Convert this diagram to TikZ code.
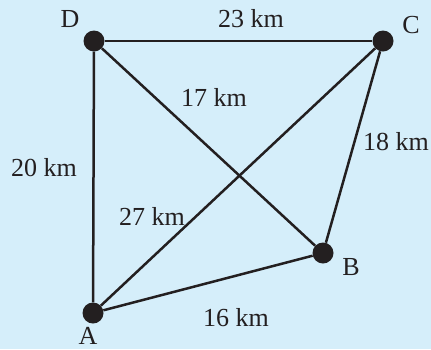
\documentclass[tikz,border=0pt]{standalone}
\usepackage{fontspec}
\setmainfont{Liberation Serif}
\usetikzlibrary{positioning}
\definecolor{bgblue}{HTML}{D5EEFA}
\definecolor{inkdark}{HTML}{231F20}
\tikzset{
  town/.style={circle, fill=inkdark, inner sep=0pt, minimum size=21pt},
  road/.style={draw=inkdark, line width=2.5pt},
  dist/.style={font=\fontsize{26}{30}\selectfont, text=inkdark, inner sep=0pt},
}

\begin{document}
\begin{tikzpicture}[x=1pt, y=-1pt]
% Background
\fill[bgblue] (0,0) rectangle (431,349);
\useasboundingbox (0,0) rectangle (431,349);

% Towns
\node[town] (D) at (94,41) {};
\node[town] (C) at (383,41) {};
\node[town] (B) at (323,253) {};
\node[town] (A) at (93,313) {};

% Roads
\draw[road] (D) -- (C);
\draw[road] (D) -- (A);
\draw[road] (D) -- (B);
\draw[road] (A) -- (C);
\draw[road] (C) -- (B);
\draw[road] (A) -- (B);

% Town names
\node[dist] (nameD) at (70,19) {D};
\node[dist] (nameC) at (411,25) {C};
\node[dist] (nameB) at (351,267) {B};
\node[dist] (nameA) at (88,336) {A};

% Distances
\node[dist] (dDC) at (251,19) {23 km};
\node[dist] (dDB) at (214,97) {17 km};
\node[dist] (dCB) at (396,142) {18 km};
\node[dist] (dDA) at (44,168) {20 km};
\node[dist] (dAC) at (152,216) {27 km};
\node[dist] (dAB) at (236,318) {16 km};
\end{tikzpicture}
\end{document}
